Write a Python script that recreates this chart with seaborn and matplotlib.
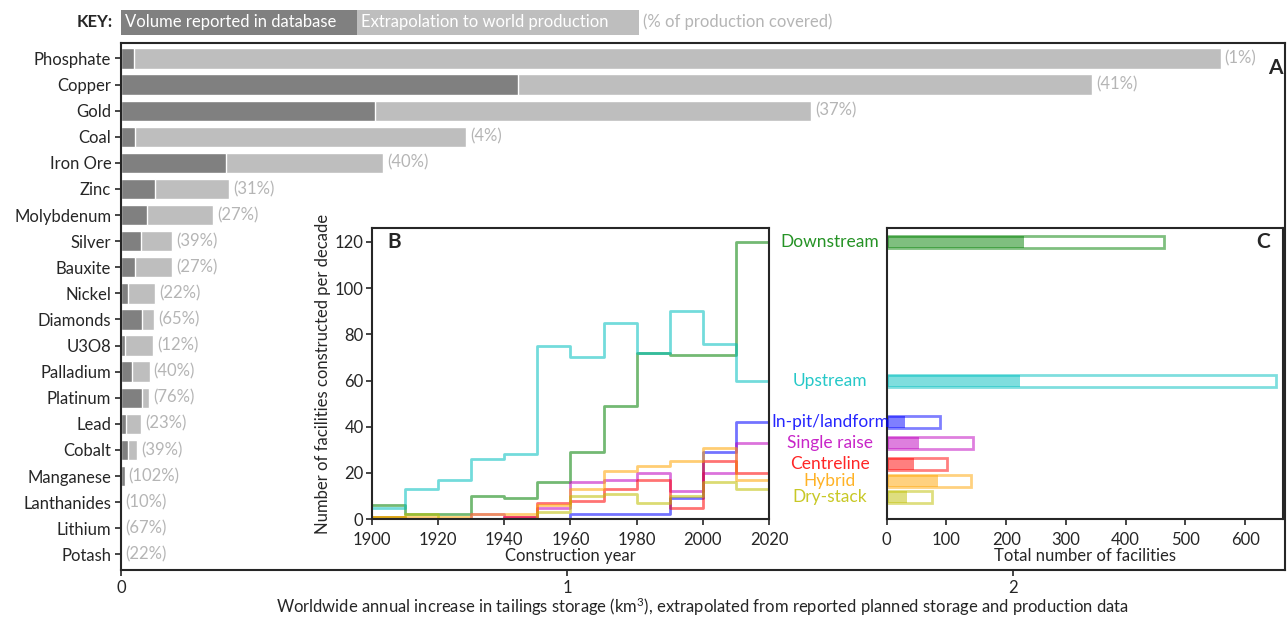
import matplotlib.pyplot as plt
import matplotlib.patches as mpatches
import numpy as np
import seaborn as sns

# panel A: tailings storage increase per commodity (km3 / year)
commodities = ["Phosphate", "Copper", "Gold", "Coal", "Iron Ore", "Zinc", "Molybdenum",
               "Silver", "Bauxite", "Nickel", "Diamonds", "U3O8", "Palladium", "Platinum",
               "Lead", "Cobalt", "Manganese", "Lanthanides", "Lithium", "Potash"]
reported = [0.029, 0.890, 0.570, 0.031, 0.235, 0.076, 0.058, 0.045, 0.031, 0.016,
            0.048, 0.010, 0.025, 0.048, 0.012, 0.015, 0.008, 0.0005, 0.0005, 0.0003]
extrapolated = [2.466, 2.177, 1.547, 0.774, 0.587, 0.242, 0.206, 0.114, 0.114, 0.076,
                0.074, 0.072, 0.064, 0.063, 0.046, 0.036, 0.0078, 0.001, 0.001, 0.001]
coverage = [1, 41, 37, 4, 40, 31, 27, 39, 27, 22, 65, 12, 40, 76, 23, 39, 102, 10, 67, 22]

# panel B: facilities constructed per decade
decades = [1900, 1910, 1920, 1930, 1940, 1950, 1960, 1970, 1980, 1990, 2000, 2010]
upstream = [5, 13, 17, 26, 28, 75, 70, 85, 72, 90, 76, 60]
downstream = [6, 2, 2, 10, 9, 16, 29, 49, 72, 71, 71, 120]
inpit = [0, 0, 0, 0, 0, 0, 2, 2, 2, 9, 29, 42]
single_raise = [0, 0, 0, 2, 1, 5, 16, 17, 20, 12, 20, 33]
centreline = [1, 0, 0, 0, 1, 7, 8, 13, 17, 5, 25, 20]
hybrid = [1, 1, 1, 2, 2, 6, 13, 21, 23, 25, 31, 17]
drystack = [1, 2, 0, 0, 0, 3, 10, 11, 7, 10, 16, 13]

# panel C: total facilities per method
methods = ["Downstream", "Upstream", "In-pit/landform", "Single raise", "Centreline", "Hybrid", "Dry-stack"]
method_reported = [229, 223, 30, 54, 46, 85, 34]
method_total = [464, 652, 89, 144, 101, 141, 75]

colors = ["g", "c", "b", "m", "r", "orange", "y"]
series = [downstream, upstream, inpit, single_raise, centreline, hybrid, drystack]
row_y = [120, 60, 42, 33, 24, 16.7, 9.7]

sns.set_style("ticks")
plt.rcParams["font.family"] = ["Lato", "DejaVu Sans"]
plt.rcParams["mathtext.default"] = "regular"
plt.rcParams["font.size"] = 12
plt.rcParams["axes.linewidth"] = 1.5
plt.rcParams["xtick.major.width"] = 1.2
plt.rcParams["ytick.major.width"] = 1.2

fig = plt.figure(figsize=(12.87, 6.18), dpi=100, facecolor="white")
ax = fig.add_axes([0.094, 0.0777, 0.9044, 0.853])

sns.barplot(x=extrapolated, y=commodities, color="#bebebe", width=0.78,
            errorbar=None, orient="h", ax=ax, saturation=1)
sns.barplot(x=reported, y=commodities, color="#808080", width=0.78,
            errorbar=None, orient="h", ax=ax, saturation=1)
for i, (tot, pct) in enumerate(zip(extrapolated, coverage)):
    ax.text(max(tot, reported[i]) + 0.009, i, f"({pct}%)", va="center",
            color="#b5b5b5", fontsize=12)
ax.set_xlim(0, 2.61)
ax.set_ylim(19.6, -0.6)
ax.set_xticks([0, 1, 2])
ax.set_ylabel("")
ax.set_xlabel("Worldwide annual increase in tailings storage (km$^3$), extrapolated from reported "
              "planned storage and production data", fontsize=12, labelpad=0)
ax.tick_params(labelsize=12, length=4, pad=3)
for s in ax.spines.values():
    s.set_visible(True)
    s.set_linewidth(1.5)
ax.text(0.992, 0.953, "A", transform=ax.transAxes, fontweight="bold", fontsize=15,
        ha="center", va="center")

# key
fig.patches.append(mpatches.Rectangle((0.0940, 0.9434), 0.1834, 0.0405,
                                      transform=fig.transFigure, fc="#808080", ec="none"))
fig.patches.append(mpatches.Rectangle((0.2774, 0.9434), 0.2191, 0.0405,
                                      transform=fig.transFigure, fc="#bebebe", ec="none"))
fig.text(0.0878, 0.9644, "KEY:", fontweight="bold", ha="right", va="center", fontsize=12)
fig.text(0.0971, 0.9644, "Volume reported in database", color="white", va="center", fontsize=12)
fig.text(0.2805, 0.9644, "Extrapolation to world production", color="white", va="center", fontsize=12)
fig.text(0.4996, 0.9644, "(% of production covered)", color="#b5b5b5", va="center", fontsize=12)

# panel B
ax_b = fig.add_axes([0.289, 0.160, 0.3085, 0.471])
ax_b.set_facecolor("white")
edges = decades + [2020]
for vals, col in zip(series, colors):
    sns.histplot(x=decades, weights=vals, bins=edges, element="step", fill=False,
                 color=col, alpha=0.55, linewidth=2, ax=ax_b)
ax_b.set_xlim(1900, 2020)
ax_b.set_ylim(0, 126)
ax_b.set_xticks(range(1900, 2021, 20))
ax_b.set_yticks(range(0, 121, 20))
ax_b.set_xlabel("Construction year", fontsize=12, labelpad=0)
ax_b.set_ylabel("Number of facilities constructed per decade", fontsize=12, labelpad=3)
ax_b.tick_params(labelsize=12, length=4, pad=2)
ax_b.tick_params(axis="x", pad=5)
ax_b.text(0.038, 0.952, "B", transform=ax_b.transAxes, fontweight="bold", fontsize=15,
          ha="left", va="center")

# panel C
ax_c = fig.add_axes([0.689, 0.160, 0.3077, 0.471])
ax_c.set_facecolor("white")
for y, rep, tot, col, name in zip(row_y, method_reported, method_total, colors, methods):
    ax_c.barh(y, rep, height=5.2, color=col, alpha=0.5, linewidth=0)
    ax_c.barh(y, tot, height=5.2, facecolor="none", edgecolor=col, alpha=0.5, linewidth=2)
    ax_c.text(-95, y, name, color=col, alpha=0.85, ha="center", va="center",
              fontsize=12.5, clip_on=False)
ax_c.set_xlim(0, 663)
ax_c.set_ylim(0, 126)
ax_c.set_yticks([])
ax_c.set_xticks(range(0, 601, 100))
ax_c.set_xlabel("Total number of facilities", fontsize=12, labelpad=0)
ax_c.tick_params(labelsize=12, length=4, pad=5)
ax_c.text(0.95, 0.952, "C", transform=ax_c.transAxes, fontweight="bold", fontsize=15,
          ha="center", va="center")

fig.savefig("out.png", dpi=100)
